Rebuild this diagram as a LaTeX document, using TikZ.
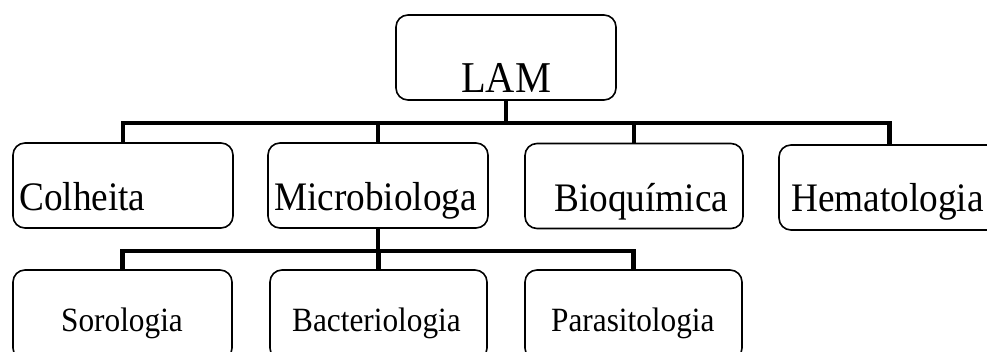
\documentclass[tikz,border=0pt]{standalone}
\usepackage{fontspec}
\setmainfont{Liberation Serif}
\newfontfamily\narrowserif[FakeStretch=0.92]{Liberation Serif}
\begin{document}
\begin{tikzpicture}[x=1pt,y=-1pt,
  box/.style={draw=black, line width=1.6pt, rounded corners=12pt, inner sep=0pt, minimum width=#1},
  box/.default=220pt,
  lvA/.style={minimum height=85pt},
  lvB/.style={minimum height=90pt},
  conn/.style={draw=black, line width=4.5pt},
  lbl/.style={anchor=base west, inner sep=0pt},
  fA/.style={font=\narrowserif\fontsize{44}{46}\selectfont},
  fB/.style={font=\narrowserif\fontsize{40.5}{42}\selectfont},
  fC/.style={font=\narrowserif\fontsize{34}{36}\selectfont}]
\useasboundingbox (0,0) rectangle (987,352);
\begin{scope}
\clip (0,0) rectangle (987,352);
% boxes
\node[box, lvA] (lam) at (506,57.5) {};
\node[box, lvA] (colheita) at (123,185.5) {};
\node[box, lvA] (micro) at (378,185.5) {};
\node[box=218pt, lvA] (bioq) at (634,186) {};
\node[box=221pt, lvA] (hema) at (889.5,187.5) {};
\node[box=219pt, lvB] (soro) at (122.5,315) {};
\node[box=217pt, lvB] (bact) at (378.5,315) {};
\node[box=217pt, lvB] (para) at (633.5,315) {};
% labels
\node[lbl, fA] (tlam) at (461,93) {LAM};
\node[lbl, fB] (tcol) at (19,211) {Colheita};
\node[lbl, fB] (tmic) at (274,211) {Microbiologa};
\node[lbl, fB] (tbio) at (554,212) {Bioquímica};
\node[lbl, fB] (thema) at (791,212) {Hematologia};
\node[lbl, fC] (tsor) at (61,331) {Sorologia};
\node[lbl, fC] (tbac) at (292,331) {Bacteriologia};
\node[lbl, fC] (tpar) at (551,331) {Parasitologia};
% connectors
\coordinate (busA) at (506,123);
\coordinate (busB) at (378,251);
\foreach \c in {colheita,micro,bioq,hema}
  \draw[conn] (lam.south) -- (lam.south |- busA) -| (\c.north);
\foreach \c in {soro,bact,para}
  \draw[conn] (micro.south) -- (micro.south |- busB) -| (\c.north);
\end{scope}
\end{tikzpicture}
\end{document}
